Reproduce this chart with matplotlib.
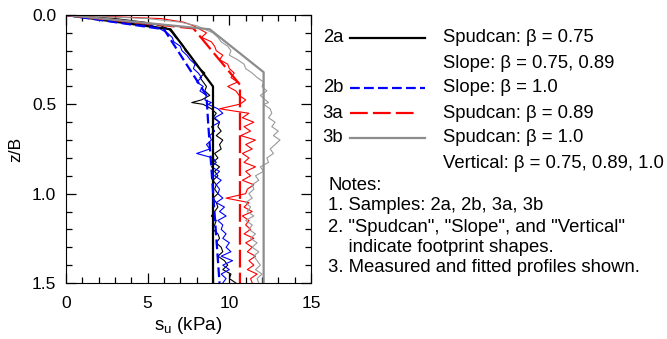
import matplotlib
matplotlib.use("Agg")
import matplotlib.pyplot as plt
from matplotlib.ticker import MultipleLocator

plt.rcParams["font.family"] = ["Liberation Sans", "DejaVu Sans"]
plt.rcParams["mathtext.fontset"] = "custom"
plt.rcParams["mathtext.rm"] = "Liberation Sans"
plt.rcParams["mathtext.it"] = "Liberation Sans"

# depth grid of the measured profiles (z/B)
z_meas = [0, 0.01, 0.02, 0.04, 0.06, 0.08,
          0.1, 0.125, 0.15, 0.175, 0.2, 0.225, 0.25, 0.275, 0.3, 0.325,
          0.35, 0.375, 0.4, 0.425, 0.45, 0.475, 0.49,
          0.5, 0.525, 0.55, 0.575, 0.6, 0.625, 0.65, 0.675, 0.7, 0.725,
          0.75, 0.775, 0.8, 0.825, 0.85, 0.875, 0.9, 0.925, 0.95, 0.975,
          1.0, 1.025, 1.05, 1.075, 1.1, 1.125, 1.15, 1.175, 1.2, 1.225,
          1.25, 1.275, 1.3, 1.325, 1.35, 1.375, 1.4, 1.425, 1.45, 1.475, 1.5]

# measured su (kPa)
su_2a = [0, 1.5, 3.0, 4.8, 5.8, 6.3, 6.5, 6.7, 7.0, 7.2,
         7.3, 7.6, 7.8, 7.9, 8.2, 8.5, 8.2, 8.4, 8.6, 8.5,
         8.8, 8.3, 7.7, 8.4, 8.9, 9.2, 9.0, 9.4, 9.3, 9.5,
         9.2, 9.6, 9.4, 9.5, 9.1, 9.3, 9.0, 9.4, 9.1, 9.3,
         9.0, 9.2, 9.1, 9.3, 9.0, 9.2, 9.3, 9.1, 8.9, 9.2,
         9.1, 9.0, 9.3, 9.4, 9.2, 9.5, 9.6, 9.3, 9.7, 9.9,
         9.6, 10.1, 10.0, 10.4]
su_2b = [0, 0.8, 2.0, 4.0, 5.3, 5.8, 6.2, 6.5, 6.6, 7.0,
         7.1, 7.4, 7.6, 7.9, 7.8, 8.1, 8.3, 8.0, 8.4, 8.2,
         8.6, 8.5, 8.9, 8.7, 9.3, 9.6, 9.1, 9.4, 8.9, 9.1,
         8.8, 8.9, 8.6, 8.8, 8.0, 9.0, 9.2, 8.9, 9.4, 9.1,
         9.5, 9.2, 9.4, 9.3, 9.6, 9.2, 9.7, 9.4, 9.8, 9.3,
         9.6, 9.5, 9.8, 9.6, 10.0, 9.8, 10.1, 9.5, 10.2, 9.6,
         10.0, 9.5, 9.8, 9.6]
su_3a = [0, 3.0, 5.8, 7.2, 7.8, 8.2, 8.6, 8.3, 8.9, 9.1,
         9.2, 9.6, 9.4, 9.9, 10.0, 10.3, 10.1, 10.5, 9.9, 10.4,
         10.6, 11.0, 10.8, 10.6, 9.4, 11.2, 10.8, 11.5, 10.9, 11.3,
         10.7, 11.6, 11.0, 11.4, 10.8, 11.2, 10.9, 11.6, 11.0, 11.3,
         10.8, 11.5, 11.1, 11.0, 9.8, 11.2, 10.9, 11.4, 10.8, 11.2,
         11.0, 11.3, 10.9, 11.5, 11.0, 11.4, 11.1, 11.6, 11.2, 11.5,
         11.1, 11.7, 11.3, 11.4]
su_3b = [0, 2.5, 5.0, 7.0, 8.0, 8.5, 9.0, 9.3, 9.5, 9.9,
         10.1, 10.0, 10.5, 10.9, 11.0, 11.4, 11.7, 12.1, 12.0, 12.3,
         11.9, 12.2, 12.4, 12.1, 12.5, 12.6, 12.4, 12.8, 12.6, 13.0,
         12.7, 13.1, 12.8, 12.5, 12.7, 12.3, 12.4, 11.9, 12.1, 11.6,
         11.8, 11.4, 11.5, 11.2, 11.4, 11.0, 11.3, 11.1, 11.5, 11.0,
         11.4, 11.2, 11.6, 11.3, 11.7, 11.4, 11.8, 11.5, 11.7, 11.9,
         11.6, 12.0, 11.7, 11.8]

# fitted profiles
fit_2a_z = [0, 0.08, 0.40, 1.5]
fit_2a_su = [0, 6.4, 9.0, 9.0]
fit_2b_z = [0, 0.08, 0.45, 0.6, 1.5]
fit_2b_su = [0, 6.0, 8.6, 8.7, 9.4]
fit_3a_z = [0, 0.075, 0.39, 1.5]
fit_3a_su = [0, 7.8, 10.65, 10.65]
fit_3b_z = [0, 0.08, 0.32, 1.5]
fit_3b_su = [0, 8.8, 12.1, 12.1]

samples = ["2a", "2b", "3a", "3b"]
descriptions = ["Spudcan: \u03b2 = 0.75", "Slope: \u03b2 = 0.75, 0.89", "Slope: \u03b2 = 1.0",
                "Spudcan: \u03b2 = 0.89", "Spudcan: \u03b2 = 1.0",
                "Vertical: \u03b2 = 0.75, 0.89, 1.0"]
notes = ["Notes:", "1. Samples: 2a, 2b, 3a, 3b",
         "2. \"Spudcan\", \"Slope\", and \"Vertical\"",
         "    indicate footprint shapes.", "3. Measured and fitted profiles shown."]

c_black, c_blue, c_red, c_gray = "black", "#0000ff", "#ff0000", "#8c8c8c"
fs_tick = 12.5
fs_text = 13.3
blue_dash = (4.4, 1.9)
red_dash = (8, 2.3)

fig = plt.figure(figsize=(6.67, 3.39), dpi=100)
ax = fig.add_axes([66 / 667, 1 - 283 / 339, 245 / 667, 268 / 339])

# measured (thin)
ax.plot(su_2a, z_meas, color=c_black, lw=0.8)
ax.plot(su_2b, z_meas, color=c_blue, lw=0.8)
ax.plot(su_3a, z_meas, color=c_red, lw=0.8)
ax.plot(su_3b, z_meas, color="#999999", lw=0.8)

# fitted (thick)
ax.plot(fit_2a_su, fit_2a_z, color=c_black, lw=1.6)
ax.plot(fit_2b_su, fit_2b_z, color=c_blue, lw=1.6, dashes=blue_dash)
ax.plot(fit_3a_su, fit_3a_z, color=c_red, lw=1.6, dashes=red_dash)
ax.plot(fit_3b_su, fit_3b_z, color=c_gray, lw=1.6)

ax.set_xlim(0, 15)
ax.set_ylim(1.5, 0)
ax.xaxis.set_major_locator(MultipleLocator(5))
ax.xaxis.set_minor_locator(MultipleLocator(1))
ax.yaxis.set_major_locator(MultipleLocator(0.5))
ax.yaxis.set_minor_locator(MultipleLocator(0.1))
ax.yaxis.set_major_formatter(lambda v, p: f"{v:.1f}")
ax.tick_params(which="both", direction="in", top=True, right=True, labelsize=fs_tick)
ax.tick_params(which="major", length=7, width=0.9)
ax.tick_params(which="minor", length=4, width=0.9)
ax.tick_params(axis="x", pad=9)
ax.tick_params(axis="y", pad=7)
ax.set_xlabel("s$_\\mathrm{u}$ (kPa)", fontsize=13.5, labelpad=3)
ax.set_ylabel("z/B", fontsize=fs_tick, labelpad=6)

# legend and notes on an overlay in pixel coordinates
ov = fig.add_axes([0, 0, 1, 1])
ov.set_xlim(0, 667)
ov.set_ylim(339, 0)
ov.axis("off")

leg_rows = [38, 88, 113, 138]
leg_styles = [(c_black, None, 425), (c_blue, blue_dash, 425),
              (c_red, red_dash, 417), (c_gray, None, 425)]
for name, y, (col, dsh, x1) in zip(samples, leg_rows, leg_styles):
    ov.text(343, y, name, ha="right", va="center", fontsize=fs_text)
    kw = {"dashes": dsh} if dsh else {}
    ov.plot([350, x1], [y, y], color=col, lw=1.6, **kw)

for txt, y in zip(descriptions, [38, 63, 88, 113, 138, 163]):
    ov.text(443, y, txt, ha="left", va="center", fontsize=fs_text)

for txt, y in zip(notes, [185, 206, 227, 247, 268]):
    ov.text(328, y, txt, ha="left", va="center", fontsize=fs_text)

fig.savefig("out.png", dpi=100)
